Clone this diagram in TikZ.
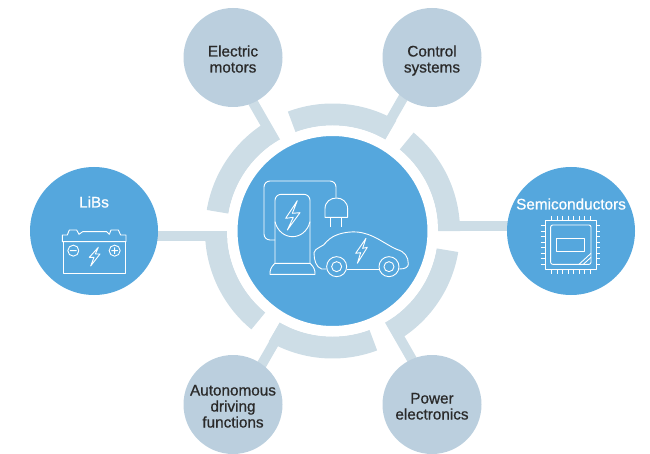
\documentclass[tikz,border=0pt]{standalone}
\usepackage{fontspec}
\usepackage{tikz}
\usetikzlibrary{positioning, calc, backgrounds}
\newfontfamily\labelfont[FakeBold=0.8]{Liberation Sans}
\definecolor{hubblue}{HTML}{55A7DD}
\definecolor{satgray}{HTML}{BBCFDE}
\definecolor{ringgray}{HTML}{CDDDE6}
\definecolor{labeldark}{HTML}{2A2A2A}
\tikzset{
    x=1pt, y=1pt,
    every node/.style={ % Sets the font for each label
        font=\labelfont\fontsize{15.3}{16}\selectfont,
        align=center,
        inner sep=0pt
    },
    hubnode/.style={ % White band round the middle disc
        circle,
        fill=hubblue,
        draw=white,
        line width=10.5pt,
        minimum size=200.5pt
    },
    bigsat/.style={circle, fill=hubblue, minimum size=128pt, text=white},
    smallsat/.style={
        circle,
        fill=satgray,
        minimum size=99pt,
        text=labeldark,
        text depth=0pt,
        text height=#1
    },
    spoke/.style={draw=ringgray, line width=10pt},
    ringseg/.style={fill=ringgray},
    icon/.style={draw=white, line width=0.9pt, line join=round}
}
\newcommand{\boltpath}[6]{(#1) -- (#2) -- (#3) -- (#4) -- (#5) -- (#6) -- cycle}
\begin{document}
\begin{tikzpicture}
    \useasboundingbox (0,0) rectangle (650,453);
    % middle
    \node[hubnode] (hub) at (332.5,222) {};
    % obere zeile
    \node[smallsat=30pt, on grid, above left=173.5pt and 99.5pt of hub]  (motors)  {Electric\\motors};
    \node[smallsat=30pt, on grid, above right=173.5pt and 99.5pt of hub] (control) {Control\\systems};
    % mittlere zeile
    \node[bigsat, on grid, left=238.5pt of hub]  (libs) {};
    \node[bigsat, on grid, right=238.5pt of hub] (semi) {};
    \node[text=white, on grid, above=29pt of libs]  (libstext) {LiBs};
    \node[text=white, on grid, above=27pt of semi]  (semitext) {Semiconductors};
    % untere zeile
    \node[smallsat=46pt, on grid, below left=173.5pt and 99.5pt of hub]  (auto)  {Autonomous\\driving\\functions};
    \node[smallsat=30pt, on grid, below right=173.5pt and 99.5pt of hub] (power) {Power\\electronics};

    \begin{scope}[on background layer]
        \foreach \sat in {semi, control, motors, libs, auto, power}
            \draw[spoke] ($(hub)!5pt!90:(\sat)$) -- ($(\sat)!5pt!-90:(hub)$);
        \foreach \ang in {0, 60, 120, 180, 240, 300}
            \fill[ringseg, shift={(hub)}]
                (\ang:105.5) arc[start angle=\ang, delta angle=50.5, radius=105.5]
                -- (\ang+50.5:127.5) arc[start angle=\ang+50.5, delta angle=-50.5, radius=127.5]
                -- cycle;
    \end{scope}

    % charger and car
    \begin{scope}[shift={(240,293)}, x=0.3333pt, y=-0.3333pt]
        \draw[icon, rounded corners=6pt] (105,240) -- (72,240) -- (72,63) -- (288,63) -- (288,113);
        \draw[icon, rounded corners=6pt] (105,310) -- (105,103) -- (210,103) -- (210,310);
        \draw[icon] (105,310) -- (210,310) .. controls (222,320) and (226,332) .. (225,343)
            -- (90,343) .. controls (89,332) and (93,320) .. (105,310);
        \draw[icon] (105,185) .. controls (120,245) and (195,245) .. (210,185);
        \draw[icon] \boltpath{172,122}{137,175}{160,172}{142,210}{180,158}{157,160};
        \draw[icon] (255,172) -- (255,147) .. controls (255,103) and (323,103) .. (323,147)
            -- (323,172) -- cycle;
        \draw[icon] (270,172) -- (270,200) (304,172) -- (304,200);
        \draw[icon] (260,327) -- (245,327) .. controls (228,322) and (222,300) .. (222,278)
            .. controls (225,262) and (250,262) .. (260,245)
            .. controls (280,222) and (320,214) .. (350,216)
            .. controls (400,220) and (430,250) .. (470,268)
            .. controls (495,275) and (505,290) .. (505,312)
            .. controls (505,322) and (495,327) .. (478,327);
        \draw[icon] (320,327) -- (417,327);
        \draw[icon] (290,320) circle[radius=10pt] (290,320) circle[radius=5pt];
        \draw[icon] (447,320) circle[radius=10pt] (447,320) circle[radius=5pt];
        \draw[icon] \boltpath{378,235}{347,280}{362,278}{352,310}{382,262}{368,265};
    \end{scope}

    % battery
    \begin{scope}[shift={(30,283)}, x=0.3333pt, y=-0.3333pt]
        \draw[icon] (100,215) -- (100,310) -- (285,310) -- (285,215);
        \draw[icon] (97,215) -- (288,215) -- (288,195) -- (272,195) -- (265,180) -- (243,180)
            -- (238,193) -- (230,185) -- (158,185) -- (147,193) -- (140,180) -- (118,180)
            -- (112,195) -- (97,195) -- cycle;
        \draw[icon] (130,242) circle[radius=5.5pt] (120,242) -- (140,242);
        \draw[icon] (254,242) circle[radius=5.5pt] (244,242) -- (264,242) (254,232) -- (254,252);
        \draw[icon] \boltpath{205,232}{178,262}{192,262}{182,288}{210,252}{196,252};
    \end{scope}

    % chip
    \begin{scope}[shift={(500,283)}, x=0.3333pt, y=-0.3333pt]
        \draw[icon] (135,150) rectangle (288,298);
        \draw[icon, rounded corners=2pt] (152,165) rectangle (273,283);
        \draw[icon] (170,205) rectangle (253,245);
        \draw[icon] (237,283) -- (273,250) (250,283) -- (273,262);
        \foreach \pos in {0,...,7} {
            \draw[icon] (155+16.5*\pos,138) -- (155+16.5*\pos,150);
            \draw[icon] (155+16.5*\pos,298) -- (155+16.5*\pos,312);
            \draw[icon] (122,167+16.5*\pos) -- (135,167+16.5*\pos);
            \draw[icon] (288,167+16.5*\pos) -- (300,167+16.5*\pos);
        }
    \end{scope}
\end{tikzpicture}
\end{document}
